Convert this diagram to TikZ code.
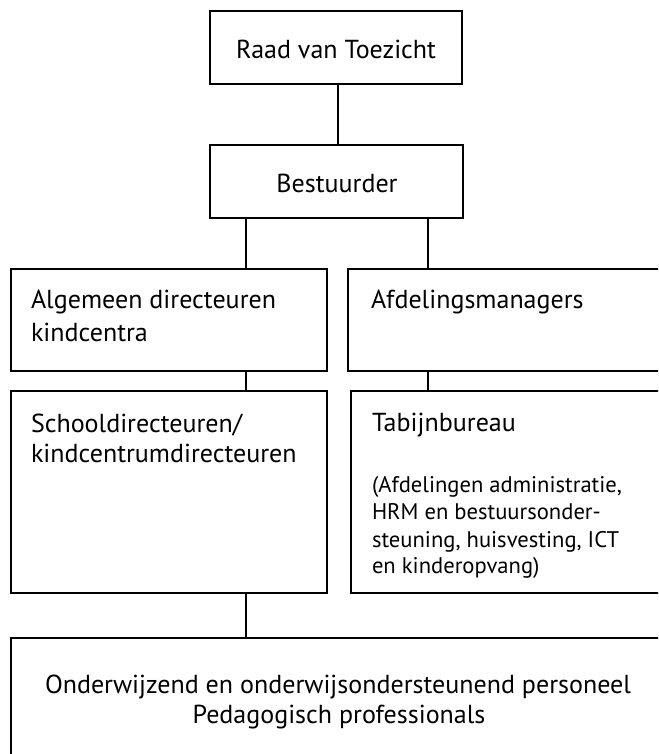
\documentclass[tikz,border=0pt]{standalone}
\usepackage{fontspec}
\setmainfont{PT Sans}
\newlength\refwidthA
\newlength\refwidthB
\settowidth{\refwidthA}{\fontsize{10pt}{12pt}\selectfont Onderwijzend en onderwijsondersteunend personeel}
\settowidth{\refwidthB}{\fontsize{10pt}{12pt}\selectfont (Afdelingen administratie,}
\pgfmathsetmacro\mainfs{10*586/\refwidthA}
\pgfmathsetmacro\smallfs{10*250/\refwidthB}
\begin{document}
\begin{tikzpicture}[x=1pt,y=-1pt,
  box/.style={draw=black,line width=1.8pt,inner sep=0pt,outer sep=0pt},
  conn/.style={draw=black,line width=1.8pt},
  lbl/.style={inner sep=0pt,outer sep=0pt,font=\fontsize{\mainfs pt}{31pt}\selectfont},
  slbl/.style={inner sep=0pt,outer sep=0pt,font=\fontsize{\smallfs pt}{27pt}\selectfont}]
\useasboundingbox (0,0) rectangle (658,754);
\clip (0,0) rectangle (658,754);
% boxes
\node[box,minimum width=252pt,minimum height=73pt,anchor=north west] (raad) at (210,11) {};
\node[box,minimum width=253pt,minimum height=73pt,anchor=north west] (best) at (210,145) {};
\node[box,minimum width=316pt,minimum height=102pt,anchor=north west] (alg) at (11,269) {};
\node[box,minimum width=318pt,minimum height=102pt,anchor=north west] (afd) at (348,269) {};
\node[box,minimum width=316pt,minimum height=202pt,anchor=north west] (school) at (11,391) {};
\node[box,minimum width=316pt,minimum height=202pt,anchor=north west] (tab) at (351,391) {};
\node[box,minimum width=654pt,minimum height=130pt,anchor=north west] (pers) at (11,638) {};
% texts
\node[lbl,anchor=base] (traad) at (336,59) {Raad van Toezicht};
\node[lbl,anchor=base] (tbest) at (337,192) {Bestuurder};
\node[lbl,anchor=base west] (talg1) at (31,308) {Algemeen directeuren};
\node[lbl,anchor=base west] (talg2) at (31,341) {kindcentra};
\node[lbl,anchor=base west] (tafd) at (371,308) {Afdelingsmanagers};
\node[lbl,anchor=base west] (tsch1) at (31,432) {Schooldirecteuren/};
\node[lbl,anchor=base west] (tsch2) at (31,462) {kindcentrumdirecteuren};
\node[lbl,anchor=base west] (ttab) at (372,431) {Tabijnbureau};
\node[slbl,anchor=base west] (ttab1) at (372,492) {(Afdelingen administratie,};
\node[slbl,anchor=base west] (ttab2) at (372,519) {HRM en bestuursonder-};
\node[slbl,anchor=base west] (ttab3) at (372,547) {steuning, huisvesting, ICT};
\node[slbl,anchor=base west] (ttab4) at (372,573) {en kinderopvang)};
\node[lbl,anchor=base] (tpers1) at (338,693) {Onderwijzend en onderwijsondersteunend personeel};
\node[lbl,anchor=base] (tpers2) at (339,723) {Pedagogisch professionals};
% connector x positions
\coordinate (cl) at (246,0);
\coordinate (cr) at (428,0);
\coordinate (cm) at (338,0);
\draw[conn] (raad.south -| cm) -- (best.north -| cm);
\draw[conn] (best.south -| cl) -- (alg.north -| cl);
\draw[conn] (best.south -| cr) -- (afd.north -| cr);
\draw[conn] (alg.south -| cl) -- (school.north -| cl);
\draw[conn] (afd.south -| cr) -- (tab.north -| cr);
\draw[conn] (school.south -| cl) -- (pers.north -| cl);
\end{tikzpicture}
\end{document}
